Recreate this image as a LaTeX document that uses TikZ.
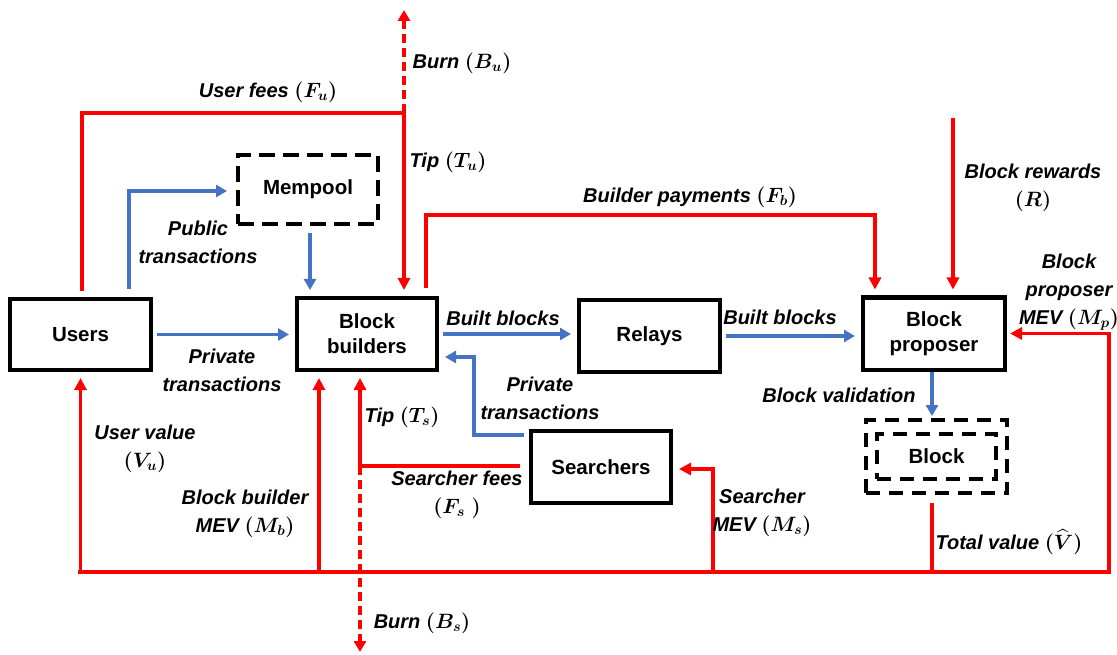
\documentclass[tikz,border=0pt]{standalone}
\usepackage{amsmath}
\usepackage{fontspec}
\setmainfont{Liberation Sans}
\usetikzlibrary{arrows.meta,positioning}
\definecolor{flowRed}{HTML}{FF0000}
\definecolor{flowBlue}{HTML}{4472C4}
\tikzset{
  actor/.style={draw=black,line width=4pt,minimum width=140pt,minimum height=72pt,
                inner sep=2pt,align=center,font=\fontsize{20.5}{25}\selectfont\bfseries},
  pool/.style={actor,dash pattern=on 16pt off 8pt},
  bluflow/.style={-{Triangle[length=11pt,width=12pt]},draw=flowBlue,line width=3.4pt,
                  shorten >=6pt,shorten <=4pt},
  redflow/.style={-{Triangle[length=12pt,width=12pt]},draw=flowRed,line width=3.6pt,shorten >=6pt},
  redline/.style={draw=flowRed,line width=3.6pt},
  redburn/.style={-{Triangle[length=11pt,width=12pt]},draw=flowRed,line width=3.6pt,
                  dash pattern=on 9pt off 5pt},
  flowlbl/.style={font=\fontsize{20}{28}\selectfont\bfseries\itshape\boldmath,align=center,inner sep=1pt},
}
\begin{document}
\begin{tikzpicture}[x=1pt,y=-1pt]
  \useasboundingbox (0,0) rectangle (1117,655);
  % participants
  \node[actor,minimum width=141pt,minimum height=71pt] (Users) at (80.5,334.5) {Users};
  \node[actor] (Builders) at (367,334) {Block\\builders};
  \node[actor,minimum width=141pt] (Relays) at (649.5,336) {Relays};
  \node[actor,minimum width=142pt] (Proposer) at (934,333.5) {Block\\proposer};
  \node[actor] (Searchers) at (601,467) {Searchers};
  \node[pool,minimum height=69pt] (Mempool) at (308,189.5) {Mempool};
  \node[pool,minimum width=141pt,minimum height=73pt,dash pattern=on 14pt off 9pt] (BlockOut) at (936.5,456.5) {};
  \node[pool,minimum width=119pt,minimum height=45pt,dash pattern=on 14pt off 9pt] (Block) at (936.5,456.5) {Block};

  % free ends
  \coordinate (feeTop) at (404,113);
  \coordinate (burnUEnd) at (404,10);
  \coordinate (rewardTop) at (953,118);
  \coordinate (feeJoin) at (360,466);
  \coordinate (burnSEnd) at (360,652);
  \coordinate (valueL) at (78,572);
  \coordinate (valueR) at (1111,572);
  \coordinate (bbIn) at ([xshift=-48pt]Builders.south);
  \coordinate (msBase) at (713,572);
  \coordinate (mpBase) at (1109,572);

  % transactions and blocks
  \draw[bluflow] (Users.east) -- (Users.east -| Builders.west);
  \draw[bluflow,shorten <=8pt,shorten >=9pt] ([xshift=48.5pt]Users.north) |- ([yshift=-1.5pt]Mempool.west);
  \draw[bluflow,shorten <=7pt] ([xshift=2pt]Mempool.south) -- ([xshift=2pt]Mempool.south |- Builders.north);
  \draw[bluflow] (Builders.east) -- (Builders.east -| Relays.west);
  \draw[bluflow] (Relays.east) -- (Relays.east -| Proposer.west);
  \draw[bluflow,shorten <=5pt] ([yshift=32pt]Searchers.west) -- ++(-55,0) |- ([yshift=-23pt]Builders.east);
  \draw[bluflow,shorten <=0pt,shorten >=2pt] ([xshift=-2pt]Proposer.south) -- ([xshift=-2pt]Proposer.south |- BlockOut.north);

  % payments
  \draw[redline,shorten <=6pt] ([xshift=1.5pt]Users.north) |- (feeTop);
  \draw[redflow] (feeTop) -- (feeTop |- Builders.north);
  \draw[redburn] (feeTop) -- (burnUEnd);
  \draw[redflow,shorten <=8pt] ([xshift=59pt]Builders.north) -- ++(0,-81) -| ([xshift=-59pt]Proposer.north);
  \draw[redflow] (rewardTop) -- (rewardTop |- Proposer.north);
  \draw[redline,shorten <=9pt] ([yshift=1pt]Searchers.west) -- (feeJoin);
  \draw[redflow] (feeJoin) -- (feeJoin |- Builders.south);
  \draw[redburn] (feeJoin) -- (burnSEnd);

  % value returned
  \draw[redline] (valueL) -- (valueR);
  \draw[redflow] (Users.south |- valueL) -- (Users.south);
  \draw[redflow] (bbIn |- valueL) -- (bbIn);
  \draw[redflow] (msBase) |- ([yshift=-2pt]Searchers.east);
  \draw[redline,shorten <=8pt] ([xshift=-4.5pt]BlockOut.south) -- ([xshift=-4.5pt]BlockOut.south |- valueL);
  \draw[redflow,shorten >=3pt] (mpBase) |- (Proposer.east);

  % labels
  \node[flowlbl] (lblFu) at (268,92) {User fees $(F_u)$};
  \node[flowlbl] (lblBu) at (462,63) {Burn $(B_u)$};
  \node[flowlbl] (lblTu) at (448,162) {Tip $(T_u)$};
  \node[flowlbl] (lblPub) at (198,242) {Public\\transactions};
  \node[flowlbl] (lblFb) at (690,197) {Builder payments $(F_b)$};
  \node[flowlbl] (lblR) at (1033,188) {Block rewards\\$(R)$};
  \node[flowlbl] (lblMp) at (1069,292) {Block\\proposer\\MEV $(M_p)$};
  \node[flowlbl] (lblBuilt) at (503,318) {Built blocks};
  \node[flowlbl] (lblBuiltP) at (780,317) {Built blocks};
  \node[flowlbl] (lblPriv) at (222,370) {Private\\transactions};
  \node[flowlbl] (lblPrivS) at (540,398) {Private\\transactions};
  \node[flowlbl] (lblTs) at (402,417) {Tip $(T_s)$};
  \node[flowlbl] (lblVu) at (145,449) {User value\\$(V_u)$};
  \node[flowlbl] (lblMb) at (245,514) {Block builder\\MEV $(M_b)$};
  \node[flowlbl] (lblFs) at (457,495) {Searcher fees\\$(F_s\;)$};
  \node[flowlbl] (lblMs) at (762,513) {Searcher\\MEV $(M_s)$};
  \node[flowlbl] (lblVal) at (839,395) {Block validation};
  \node[flowlbl] (lblV) at (1009,542) {Total value $(\widehat{V})$};
  \node[flowlbl] (lblBs) at (422,623) {Burn $(B_s)$};
\end{tikzpicture}
\end{document}
